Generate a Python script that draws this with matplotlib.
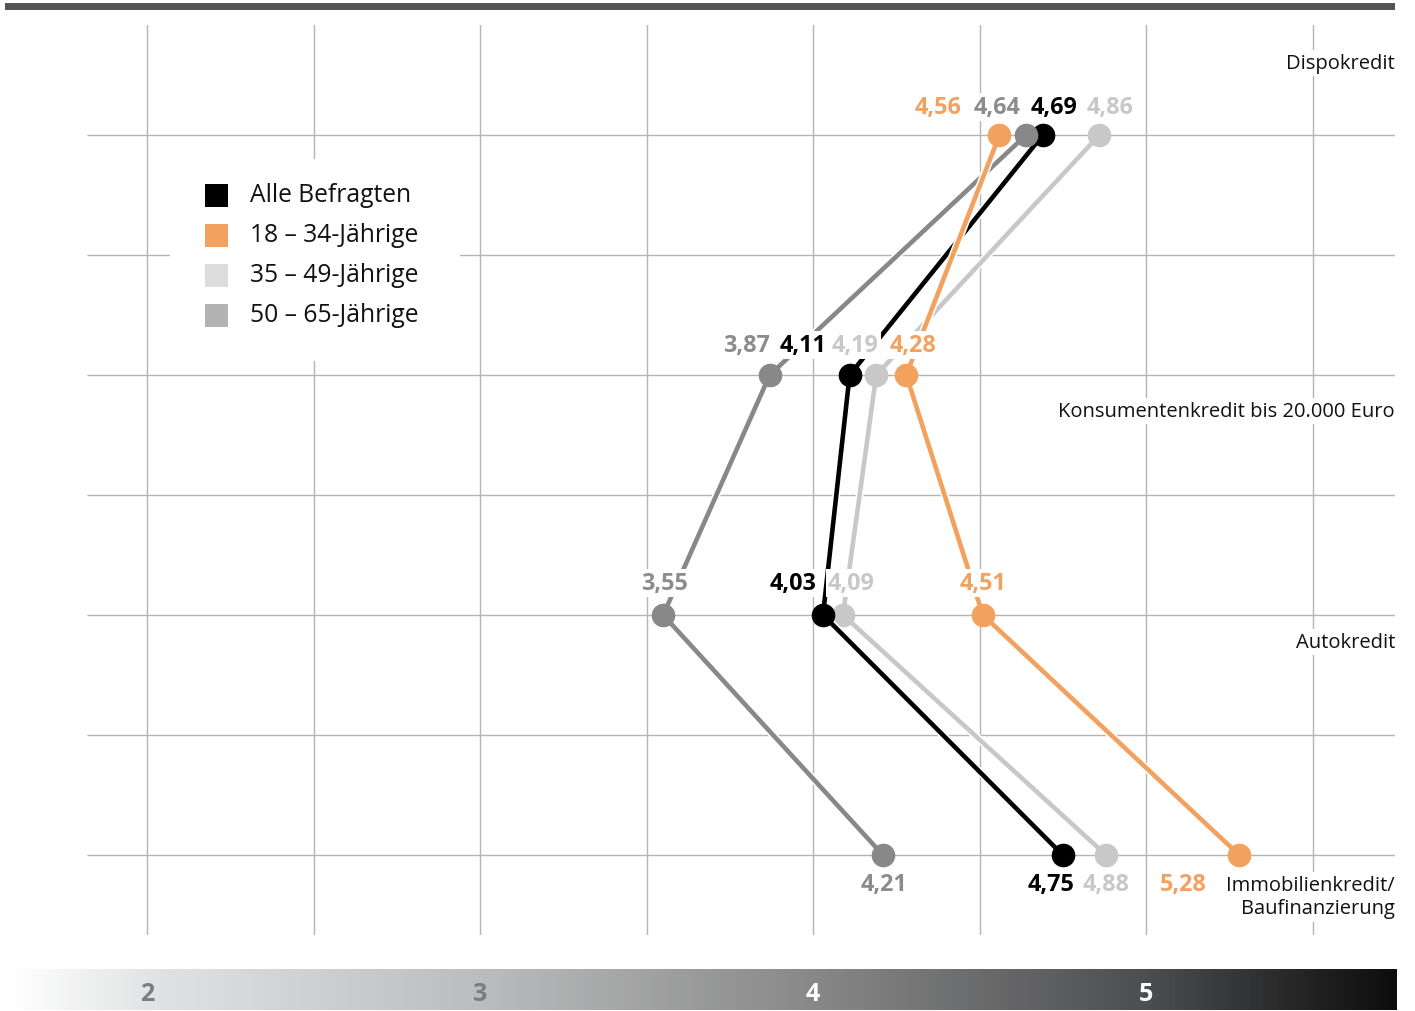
import numpy as np
import matplotlib
matplotlib.use("Agg")
from matplotlib import pyplot as plt
from matplotlib import patheffects as pe
from matplotlib.colors import LinearSegmentedColormap

plt.rcParams['font.family'] = ['Open Sans', 'DejaVu Sans']

# data
categories = ["Dispokredit", "Konsumentenkredit bis 20.000 Euro", "Autokredit",
              "Immobilienkredit/\nBaufinanzierung"]
series_names = ["Alle Befragten", "18 – 34-Jährige", "35 – 49-Jährige", "50 – 65-Jährige"]
alle = [4.69, 4.11, 4.03, 4.75]
j18_34 = [4.56, 4.28, 4.51, 5.28]
j35_49 = [4.86, 4.19, 4.09, 4.88]
j50_65 = [4.64, 3.87, 3.55, 4.21]
scale_ticks = [2, 3, 4, 5]

# styles
line_colors = ["#000000", "#F3A15F", "#C8C8C8", "#888888"]
text_colors = ["#000000", "#F3A15F", "#C8C8C8", "#8C8C8C"]
legend_colors = ["#000000", "#F3A15F", "#DCDCDC", "#B3B3B3"]
# label offsets in pixels (dx per row)
label_dx = [[11, -47, -30, -12],
            [-61, 7, 0, -56],
            [11, -21, 8, 0],
            [-29, -23, 1, 1]]
label_dy = [28, 30, 32, -29]

W, H = 1415, 1012
fig = plt.figure(figsize=(W / 100, H / 100), dpi=100)

# pixel layout -> value scale (4 at px 813, 333 px per unit)
def px2v(px):
    return 4 + (px - 813) / 333.0

rows = np.arange(len(categories)) * 2

ax = fig.add_axes([15 / W, 1 - 936 / H, 1380 / W, 910 / H])
ax.set_xlim(px2v(15), px2v(1395))
ax.set_ylim((936 - 136) / 120.0, (26 - 136) / 120.0)
ax.axis("off")

grid_c = "#B4B4B4"
for gx in np.arange(2, 5.51, 0.5):
    ax.axvline(gx, color=grid_c, lw=1, zorder=0)
ax.hlines(np.arange(0, 6.1, 1), px2v(87), px2v(1395), color=grid_c, lw=1, zorder=0)

values = [alle, j18_34, j35_49, j50_65]
order = [2, 0, 3, 1]
for k, i in enumerate(order):
    z = 3 + k * 2
    ax.plot(values[i], rows, color=line_colors[i], lw=3.3, zorder=z,
            solid_capstyle="round",
            path_effects=[pe.Stroke(linewidth=5.6, foreground="white"), pe.Normal()])
    ax.plot(values[i], rows, "o", color=line_colors[i], ms=16, zorder=z + 1)

for i in range(4):
    for r, v in enumerate(values[i]):
        ax.annotate(f"{v:.2f}".replace(".", ","), (v, rows[r]),
                    xytext=(label_dx[i][r], label_dy[r]), textcoords="offset pixels",
                    ha="center", va="center", fontsize=16.8, fontweight="bold",
                    color=text_colors[i], zorder=20,
                    bbox=dict(boxstyle="square,pad=0.08", fc="white", ec="none"))

# category labels
cat_dy = [-0.6, 0.3, 0.225, 0.35]
for r, name in enumerate(categories):
    ax.text(px2v(1395), rows[r] + cat_dy[r], name, ha="right", va="center",
            fontsize=14.5, color="#111111", zorder=20, linespacing=1.2,
            bbox=dict(boxstyle="square,pad=0.15", fc="white", ec="none"))

# legend
fig.patches.append(plt.Rectangle((170 / W, 1 - 362 / H), 290 / W, 202 / H,
                                 transform=fig.transFigure, fc="white", ec="none", zorder=5))
for i, name in enumerate(series_names):
    yc = 196 + 40 * i
    fig.patches.append(plt.Rectangle((205 / W, 1 - (yc + 11.5) / H), 23 / W, 23 / H,
                                     transform=fig.transFigure, fc=legend_colors[i],
                                     ec="none", zorder=6))
    fig.text(250 / W, 1 - yc / H, name, ha="left", va="center", fontsize=17.7,
             color="#111111", zorder=7)

# top bar
fig.patches.append(plt.Rectangle((5 / W, 1 - 11 / H), 1390 / W, 7 / H,
                                 transform=fig.transFigure, fc="#555555", ec="none"))

# bottom gradient scale
gax = fig.add_axes([10 / W, 1 - 1011 / H, 1386 / W, 41 / H])
gax.set_xlim(px2v(10), px2v(1396))
gax.set_ylim(0, 1)
gax.axis("off")
cmap = LinearSegmentedColormap.from_list(
    "g", [(0, "#ffffff"), (0.1, "#e2e3e4"), (0.34, "#bbbcbd"), (0.58, "#888888"),
          (0.82, "#4d4e50"), (1, "#0d0d0d")])
grad = np.linspace(0, 1, 512).reshape(1, -1)
gax.imshow(grad, aspect="auto", cmap=cmap, extent=[px2v(10), px2v(1396), 0, 1])
for t in scale_ticks:
    gax.text(t, 0.4, str(t), ha="center", va="center", fontsize=18, fontweight="bold",
             color="#7D7D7D" if t < 4 else "white")

fig.savefig("out.png", dpi=100)
